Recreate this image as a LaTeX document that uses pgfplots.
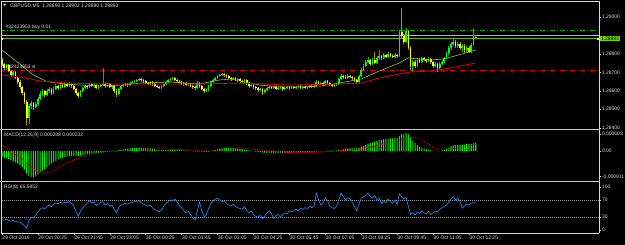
\documentclass[border=0pt]{standalone}
\usepackage{pgfplots}
\pgfplotsset{compat=1.18}
\usepackage{pgfplotstable}
\usepackage{fontspec}
\setmainfont{Liberation Sans}
\newfontfamily\symf{DejaVu Sans}
\definecolor{txt}{RGB}{220,220,220}
\definecolor{maolive}{RGB}{150,195,30}
\definecolor{mared}{RGB}{225,0,0}
\definecolor{ordgreen}{RGB}{0,170,0}
\definecolor{asklinec}{RGB}{175,180,195}
\definecolor{bidlinec}{RGB}{110,180,0}
\definecolor{boxgreen}{RGB}{110,215,0}
\definecolor{macdlime}{RGB}{0,235,0}
\definecolor{rsiblue}{RGB}{30,144,255}
\definecolor{sepgrey}{RGB}{200,200,200}
\newcommand\tf{\fontsize{5}{6}\selectfont}
\pgfplotsset{
  colormap={wickmap}{rgb255=(190,150,0) rgb255=(0,200,0)},
  colormap={bodymap}{rgb255=(255,255,0) rgb255=(0,255,0)},
}
\pgfplotstableread{
o h l c m r
1.28767 1.28778 1.28734 1.28745 -0.00020 24
1.28745 1.28751 1.28713 1.28724 -0.00024 23
1.28724 1.28745 1.28713 1.28740 -0.00025 25
1.28740 1.28745 1.28702 1.28707 -0.00028 22
1.28707 1.28713 1.28675 1.28686 -0.00032 21
1.28686 1.28707 1.28680 1.28702 -0.00036 22
1.28702 1.28707 1.28664 1.28669 -0.00040 20
1.28669 1.28675 1.28637 1.28648 -0.00045 19
1.28648 1.28659 1.28610 1.28621 -0.00050 18
1.28621 1.28626 1.28577 1.28588 -0.00057 14
1.28588 1.28593 1.28528 1.28539 -0.00066 10
1.28539 1.28550 1.28415 1.28453 -0.00080 4
1.28453 1.28528 1.28420 1.28518 -0.00088 22
1.28518 1.28545 1.28501 1.28534 -0.00092 30
1.28534 1.28539 1.28496 1.28512 -0.00093 28
1.28512 1.28539 1.28507 1.28528 -0.00090 35
1.28528 1.28566 1.28518 1.28556 -0.00084 42
1.28556 1.28599 1.28550 1.28583 -0.00076 48
1.28583 1.28610 1.28572 1.28599 -0.00070 52
1.28599 1.28604 1.28566 1.28577 -0.00064 49
1.28577 1.28610 1.28572 1.28599 -0.00057 55
1.28599 1.28621 1.28588 1.28610 -0.00051 58
1.28610 1.28615 1.28577 1.28588 -0.00045 54
1.28588 1.28621 1.28583 1.28610 -0.00040 60
1.28610 1.28637 1.28604 1.28626 -0.00035 63
1.28626 1.28631 1.28604 1.28615 -0.00030 61
1.28615 1.28642 1.28610 1.28631 -0.00026 64
1.28631 1.28637 1.28615 1.28621 -0.00024 62
1.28621 1.28648 1.28615 1.28637 -0.00022 65
1.28637 1.28642 1.28621 1.28626 -0.00020 63
1.28626 1.28648 1.28621 1.28637 -0.00018 66
1.28637 1.28642 1.28615 1.28626 -0.00017 62
1.28626 1.28631 1.28604 1.28610 -0.00017 55
1.28610 1.28615 1.28577 1.28588 -0.00018 42
1.28588 1.28593 1.28561 1.28572 -0.00018 32
1.28572 1.28604 1.28566 1.28599 -0.00016 45
1.28599 1.28621 1.28593 1.28615 -0.00014 52
1.28615 1.28631 1.28610 1.28626 -0.00012 58
1.28626 1.28631 1.28610 1.28621 -0.00010 62
1.28621 1.28642 1.28615 1.28637 -0.00009 68
1.28637 1.28642 1.28621 1.28626 -0.00008 62
1.28626 1.28637 1.28615 1.28631 -0.00007 65
1.28631 1.28637 1.28610 1.28615 -0.00006 57
1.28615 1.28631 1.28610 1.28626 -0.00006 60
1.28626 1.28637 1.28621 1.28631 -0.00005 64
1.28631 1.28724 1.28626 1.28637 -0.00004 66
1.28637 1.28642 1.28615 1.28626 -0.00003 58
1.28626 1.28642 1.28621 1.28637 -0.00002 62
1.28637 1.28642 1.28615 1.28621 -0.00001 55
1.28621 1.28631 1.28610 1.28626 0.00001 58
1.28626 1.28631 1.28588 1.28599 0.00000 48
1.28599 1.28610 1.28566 1.28583 -0.00001 40
1.28583 1.28615 1.28577 1.28610 0.00002 52
1.28610 1.28631 1.28604 1.28626 0.00004 58
1.28626 1.28637 1.28621 1.28631 0.00006 60
1.28631 1.28642 1.28626 1.28637 0.00007 62
1.28637 1.28642 1.28621 1.28631 0.00008 60
1.28631 1.28648 1.28626 1.28642 0.00009 63
1.28642 1.28653 1.28637 1.28648 0.00010 64
1.28648 1.28659 1.28642 1.28653 0.00011 66
1.28653 1.28664 1.28648 1.28659 0.00011 67
1.28659 1.28669 1.28653 1.28664 0.00012 68
1.28664 1.28669 1.28648 1.28659 0.00011 64
1.28659 1.28664 1.28642 1.28653 0.00010 60
1.28653 1.28659 1.28637 1.28642 0.00010 58
1.28642 1.28648 1.28631 1.28637 0.00009 55
1.28637 1.28653 1.28631 1.28648 0.00009 58
1.28648 1.28653 1.28626 1.28637 0.00008 52
1.28637 1.28642 1.28621 1.28626 0.00007 48
1.28626 1.28631 1.28615 1.28621 0.00005 45
1.28621 1.28626 1.28610 1.28615 0.00004 42
1.28615 1.28631 1.28610 1.28626 0.00003 46
1.28626 1.28642 1.28621 1.28637 0.00003 55
1.28637 1.28653 1.28631 1.28648 0.00003 62
1.28648 1.28664 1.28642 1.28659 0.00004 66
1.28659 1.28669 1.28653 1.28664 0.00005 70
1.28664 1.28675 1.28659 1.28669 0.00005 68
1.28669 1.28675 1.28653 1.28659 0.00005 72
1.28659 1.28664 1.28648 1.28653 0.00005 65
1.28653 1.28659 1.28637 1.28648 0.00004 58
1.28648 1.28653 1.28631 1.28637 0.00003 52
1.28637 1.28648 1.28626 1.28642 0.00002 45
1.28642 1.28648 1.28626 1.28631 0.00001 40
1.28631 1.28642 1.28626 1.28637 0.00001 44
1.28637 1.28642 1.28621 1.28626 0.00000 36
1.28626 1.28631 1.28610 1.28621 -0.00001 28
1.28621 1.28626 1.28604 1.28615 -0.00002 23
1.28615 1.28653 1.28610 1.28642 -0.00001 45
1.28642 1.28648 1.28615 1.28626 -0.00001 65
1.28626 1.28631 1.28604 1.28610 -0.00002 45
1.28610 1.28615 1.28588 1.28599 -0.00003 30
1.28599 1.28615 1.28593 1.28604 -0.00003 35
1.28604 1.28631 1.28599 1.28626 -0.00002 50
1.28626 1.28653 1.28621 1.28648 0.00000 60
1.28648 1.28664 1.28642 1.28659 0.00002 68
1.28659 1.28675 1.28653 1.28669 0.00004 72
1.28669 1.28686 1.28664 1.28680 0.00006 74
1.28680 1.28691 1.28675 1.28686 0.00008 70
1.28686 1.28696 1.28680 1.28691 0.00009 66
1.28691 1.28696 1.28675 1.28686 0.00010 68
1.28686 1.28691 1.28669 1.28680 0.00011 62
1.28680 1.28686 1.28664 1.28669 0.00011 58
1.28669 1.28675 1.28653 1.28664 0.00010 56
1.28664 1.28675 1.28659 1.28669 0.00010 60
1.28669 1.28675 1.28653 1.28659 0.00009 55
1.28659 1.28669 1.28648 1.28664 0.00008 52
1.28664 1.28669 1.28642 1.28653 0.00007 50
1.28653 1.28659 1.28637 1.28648 0.00006 48
1.28648 1.28664 1.28642 1.28659 0.00005 54
1.28659 1.28664 1.28631 1.28642 0.00004 46
1.28642 1.28648 1.28615 1.28626 0.00002 40
1.28626 1.28637 1.28621 1.28631 0.00001 44
1.28631 1.28637 1.28610 1.28621 0.00000 36
1.28621 1.28626 1.28604 1.28615 -0.00002 32
1.28615 1.28621 1.28593 1.28604 -0.00003 30
1.28604 1.28615 1.28599 1.28610 -0.00004 34
1.28610 1.28615 1.28577 1.28593 -0.00006 26
1.28593 1.28610 1.28588 1.28604 -0.00006 32
1.28604 1.28621 1.28599 1.28615 -0.00007 40
1.28615 1.28626 1.28610 1.28621 -0.00007 45
1.28621 1.28626 1.28610 1.28615 -0.00007 38
1.28615 1.28626 1.28610 1.28621 -0.00007 27
1.28621 1.28626 1.28604 1.28610 -0.00007 34
1.28610 1.28621 1.28604 1.28615 -0.00007 36
1.28615 1.28626 1.28610 1.28621 -0.00007 30
1.28621 1.28626 1.28599 1.28610 -0.00007 35
1.28610 1.28621 1.28604 1.28615 -0.00007 40
1.28615 1.28626 1.28610 1.28621 -0.00007 38
1.28621 1.28626 1.28604 1.28615 -0.00007 45
1.28615 1.28626 1.28610 1.28621 -0.00006 42
1.28621 1.28626 1.28610 1.28615 -0.00006 46
1.28615 1.28626 1.28610 1.28621 -0.00006 48
1.28621 1.28631 1.28615 1.28626 -0.00006 44
1.28626 1.28631 1.28610 1.28615 -0.00005 50
1.28615 1.28626 1.28610 1.28621 -0.00005 48
1.28621 1.28626 1.28610 1.28615 -0.00005 52
1.28615 1.28626 1.28610 1.28621 -0.00005 50
1.28621 1.28631 1.28615 1.28626 -0.00004 55
1.28626 1.28631 1.28615 1.28621 -0.00004 52
1.28621 1.28631 1.28615 1.28626 -0.00004 55
1.28626 1.28659 1.28621 1.28648 -0.00002 86
1.28648 1.28653 1.28631 1.28637 -0.00001 70
1.28637 1.28648 1.28631 1.28642 -0.00001 58
1.28642 1.28648 1.28626 1.28637 0.00000 62
1.28637 1.28659 1.28631 1.28653 0.00001 75
1.28653 1.28659 1.28637 1.28642 0.00001 68
1.28642 1.28648 1.28626 1.28631 0.00001 55
1.28631 1.28637 1.28621 1.28626 0.00001 52
1.28626 1.28637 1.28621 1.28631 0.00001 50
1.28631 1.28642 1.28626 1.28637 0.00001 55
1.28637 1.28669 1.28631 1.28664 0.00003 70
1.28664 1.28691 1.28659 1.28680 0.00005 86
1.28680 1.28686 1.28664 1.28675 0.00006 78
1.28675 1.28686 1.28664 1.28669 0.00007 70
1.28669 1.28691 1.28664 1.28680 0.00008 75
1.28680 1.28686 1.28669 1.28675 0.00009 72
1.28675 1.28680 1.28659 1.28669 0.00009 65
1.28669 1.28675 1.28648 1.28659 0.00009 55
1.28659 1.28664 1.28637 1.28648 0.00009 44
1.28648 1.28686 1.28642 1.28680 0.00011 60
1.28680 1.28724 1.28675 1.28713 0.00014 74
1.28713 1.28745 1.28707 1.28734 0.00018 78
1.28734 1.28767 1.28729 1.28756 0.00022 80
1.28756 1.28783 1.28751 1.28767 0.00026 86
1.28767 1.28772 1.28734 1.28745 0.00028 78
1.28745 1.28778 1.28740 1.28767 0.00031 74
1.28767 1.28810 1.28745 1.28751 0.00033 80
1.28751 1.28789 1.28745 1.28778 0.00036 70
1.28778 1.28821 1.28767 1.28789 0.00039 74
1.28789 1.28794 1.28767 1.28778 0.00040 62
1.28778 1.28805 1.28772 1.28794 0.00042 68
1.28794 1.28799 1.28778 1.28783 0.00043 64
1.28783 1.28810 1.28778 1.28799 0.00044 72
1.28799 1.28805 1.28783 1.28789 0.00045 66
1.28789 1.28799 1.28778 1.28783 0.00045 62
1.28783 1.28805 1.28778 1.28794 0.00046 70
1.28794 1.28799 1.28778 1.28789 0.00046 60
1.28789 1.28930 1.28783 1.28919 0.00054 84
1.28919 1.29049 1.28886 1.28897 0.00060 78
1.28897 1.28908 1.28854 1.28864 0.00061 72
1.28864 1.28940 1.28859 1.28924 0.00064 75
1.28924 1.28930 1.28821 1.28832 0.00060 55
1.28832 1.28843 1.28713 1.28734 0.00046 36
1.28734 1.28767 1.28702 1.28756 0.00036 40
1.28756 1.28767 1.28724 1.28734 0.00028 35
1.28734 1.28778 1.28729 1.28767 0.00020 42
1.28767 1.28778 1.28751 1.28756 0.00015 38
1.28756 1.28783 1.28751 1.28778 0.00012 45
1.28778 1.28783 1.28762 1.28767 0.00009 40
1.28767 1.28772 1.28751 1.28762 0.00007 37
1.28762 1.28783 1.28756 1.28772 0.00005 44
1.28772 1.28778 1.28745 1.28756 0.00003 36
1.28756 1.28762 1.28724 1.28734 0.00001 40
1.28734 1.28756 1.28729 1.28745 0.00000 44
1.28745 1.28751 1.28702 1.28724 -0.00001 42
1.28724 1.28756 1.28718 1.28745 0.00000 48
1.28745 1.28767 1.28740 1.28756 0.00002 52
1.28756 1.28783 1.28751 1.28778 0.00004 55
1.28778 1.28810 1.28772 1.28805 0.00008 58
1.28805 1.28843 1.28794 1.28832 0.00012 65
1.28832 1.28864 1.28821 1.28854 0.00016 72
1.28854 1.28886 1.28843 1.28864 0.00020 78
1.28864 1.28875 1.28832 1.28843 0.00021 70
1.28843 1.28864 1.28832 1.28854 0.00022 74
1.28854 1.28864 1.28821 1.28832 0.00022 66
1.28832 1.28854 1.28810 1.28843 0.00023 51
1.28843 1.28854 1.28805 1.28821 0.00023 56
1.28821 1.28843 1.28810 1.28832 0.00024 60
1.28832 1.28843 1.28805 1.28810 0.00024 58
1.28810 1.28859 1.28805 1.28848 0.00025 62
1.28848 1.28940 1.28843 1.28890 0.00027 64
1.28890 1.28902 1.28880 1.28893 0.000288 65.5852
}\bars
\pgfplotsset{
  mt/.style={
    scale only axis, width=598bp,
    xmin=-0.445, xmax=265.9,
    axis line style={draw=none},
    xtick=\empty,
    ytick pos=right, yticklabel pos=right,
    tick align=outside, major tick length=2bp,
    tick style={txt, line width=0.4bp},
    yticklabel style={font=\tf, text=txt, inner sep=0.8bp},
    scaled y ticks=false,
  },
}
\begin{document}
\begin{tikzpicture}
\fill[black] (0,0) rectangle (625bp,-245bp);
\useasboundingbox (0,0) rectangle (625bp,-245bp);
% ---------------- price panel
\begin{axis}[mt, at={(1bp,-128.5bp)}, anchor=south west, height=126.5bp,
  ymin=1.283957, ymax=1.290813,
  ytick={1.284,1.285,1.286,1.287,1.288,1.29},
  yticklabels={1.28400,1.28500,1.28600,1.28700,1.28800,1.29000}]
\addplot[ordgreen, line width=0.8bp, dash pattern=on 5bp off 2bp on 1bp off 2bp] coordinates {(-1,1.28930) (267,1.28930)};
\addplot[mared, line width=0.8bp, dash pattern=on 5bp off 2bp on 1bp off 2bp] coordinates {(-1,1.28711) (267,1.28711)};
\addplot[asklinec, line width=0.7bp] coordinates {(-1,1.28900) (267,1.28900)};
\addplot[bidlinec, line width=0.7bp] coordinates {(-1,1.28883) (267,1.28883)};
% wicks
\addplot[-, mark=none, line width=0.8bp, colormap name=wickmap,
  point meta={\thisrow{c}>\thisrow{o}}, point meta min=0, point meta max=1,
  quiver={u=0, v=\thisrow{h}-\thisrow{l}, colored=mapped color}]
  table[x expr=\coordindex, y=l] {\bars};
% bodies
\addplot[-, mark=none, line width=1.7bp, colormap name=bodymap,
  point meta={\thisrow{c}>\thisrow{o}}, point meta min=0, point meta max=1,
  quiver={u=0, v=\thisrow{c}-\thisrow{o}, colored=mapped color}]
  table[x expr=\coordindex, y=o] {\bars};
% moving averages
\addplot[maolive, line width=0.6bp] coordinates {(0,1.28821) (7,1.28754) (14,1.28686) (20,1.28650) (28,1.28637) (35,1.28631) (44,1.28626) (53,1.28631) (62,1.28642) (75,1.28648) (88,1.28637) (97,1.28659) (102,1.28664) (106,1.28653) (115,1.28631) (124,1.28621) (133,1.28621) (142,1.28626) (150,1.28642) (160,1.28664) (168,1.28707) (177,1.28751) (181,1.28778) (186,1.28772) (191,1.28767) (196,1.28772) (200,1.28783) (211,1.28821)};
\addplot[mared, line width=0.8bp] coordinates {(0,1.28686) (8,1.28675) (17,1.28653) (29,1.28642) (44,1.28637) (58,1.28637) (74,1.28637) (88,1.28637) (106,1.28642) (128,1.28631) (150,1.28637) (160,1.28642) (168,1.28669) (177,1.28691) (182,1.28702) (191,1.28707) (200,1.28724) (211,1.28751)};
\end{axis}
% ---------------- MACD panel
\begin{axis}[mt, at={(1bp,-180.5bp)}, anchor=south west, height=50bp,
  ymin=-0.001046, ymax=0.000727,
  ytick={-0.000911,0,0.000603}, yticklabels={-0.000911,0.00,0.000603}]
\addplot[ybar, bar width=1.1bp, fill=macdlime, draw=none] table[x expr=\coordindex, y=m] {\bars};
\addplot[mared, line width=0.9bp, dash pattern=on 1bp off 1bp] coordinates {(0,0.00020) (3,0.00005) (6,-0.00012) (9,-0.00030) (12,-0.00050) (15,-0.00068) (17,-0.00076) (19,-0.00079) (21,-0.00077) (24,-0.00066) (26,-0.00055) (28,-0.00046) (32,-0.00032) (35,-0.00022) (40,-0.00011) (44,-0.00005) (48,-0.00001) (52,0.00001) (56,0.00003) (60,0.00006) (65,0.00008) (70,0.00008) (75,0.00006) (80,0.00005) (85,0.00003) (90,0.00000) (95,0.00000) (100,0.00004) (105,0.00008) (110,0.00008) (115,0.00004) (120,-0.00001) (125,-0.00005) (130,-0.00006) (135,-0.00006) (140,-0.00005) (145,-0.00002) (150,0.00000) (155,0.00004) (160,0.00008) (165,0.00015) (170,0.00025) (175,0.00035) (180,0.00045) (183,0.00049) (186,0.00046) (189,0.00030) (192,0.00012) (195,0.00004) (198,0.00004) (202,0.00010) (206,0.00015) (211,0.000232)};
\end{axis}
% ---------------- RSI panel
\begin{axis}[mt, at={(1bp,-233bp)}, anchor=south west, height=50.5bp,
  ymin=-7, ymax=110.5,
  ytick={0,30,70,100}, yticklabels={0,30,70,100},
  xtick={0,16,32,48,64,80,96,112,128,144,160,176,192,208},
  xticklabels={29 Oct 2019,29 Oct 20:25,29 Oct 21:45,29 Oct 23:05,30 Oct 00:25,30 Oct 01:45,30 Oct 03:05,30 Oct 04:25,30 Oct 05:45,30 Oct 07:05,30 Oct 08:25,30 Oct 09:45,30 Oct 11:05,30 Oct 12:25},
  xtick pos=left,
  xticklabel style={font=\tf, text=txt, anchor=north west, inner sep=0.6bp, xshift=-0.3bp}]
\addplot[gray!80!white, line width=0.6bp, dash pattern=on 0.8bp off 1.2bp] coordinates {(-1,70) (267,70)};
\addplot[gray!80!white, line width=0.6bp, dash pattern=on 0.8bp off 1.2bp] coordinates {(-1,30) (267,30)};
\addplot[rsiblue, line width=0.6bp] table[x expr=\coordindex, y=r] {\bars};
\end{axis}
% ---------------- frame and separators
\draw[white!85!black, line width=0.6bp] (1.3bp,-1.5bp) -- (599.3bp,-1.5bp) -- (599.3bp,-233bp);
\draw[white!85!black, line width=0.6bp] (1.3bp,-1.5bp) -- (1.3bp,-233bp) -- (599.3bp,-233bp);
\fill[sepgrey] (0bp,-128.6bp) rectangle (599.6bp,-130.4bp);
\fill[sepgrey] (0bp,-180.6bp) rectangle (599.6bp,-182.4bp);
% ---------------- texts
\node[anchor=west, inner sep=0, text=txt] at (3.2bp,-5.8bp) {\symf\fontsize{3.6}{4}\selectfont ▼};
\node[anchor=west, inner sep=0, text=txt, font=\tf] at (10bp,-5.8bp) {GBPUSD,M5\ \ 1.28890 1.28902 1.28880 1.28893};
\node[anchor=west, inner sep=0, text=txt, font=\tf] at (5.5bp,-26.8bp) {\#32423953 buy 0.01};
\node[anchor=west, inner sep=0, text=txt, font=\tf] at (5.5bp,-66.6bp) {\#32423953 sl};
\fill[white] (1.5bp,-38bp) rectangle (3.3bp,-39.8bp);
\fill[white] (597.2bp,-37.6bp) rectangle (599.2bp,-39.6bp);
\node[anchor=west, fill=boxgreen, text=black, font=\tf, inner xsep=0.8bp, inner ysep=0.6bp] at (600bp,-38.6bp) {1.28893};
\node[anchor=west, inner sep=0, text=txt, font=\tf] at (4bp,-135bp) {MACD(12,26,9) 0.000288 0.000232};
\node[anchor=west, inner sep=0, text=txt, font=\tf] at (4bp,-186.8bp) {RSI(8) 65.5852};
\end{tikzpicture}
\end{document}
